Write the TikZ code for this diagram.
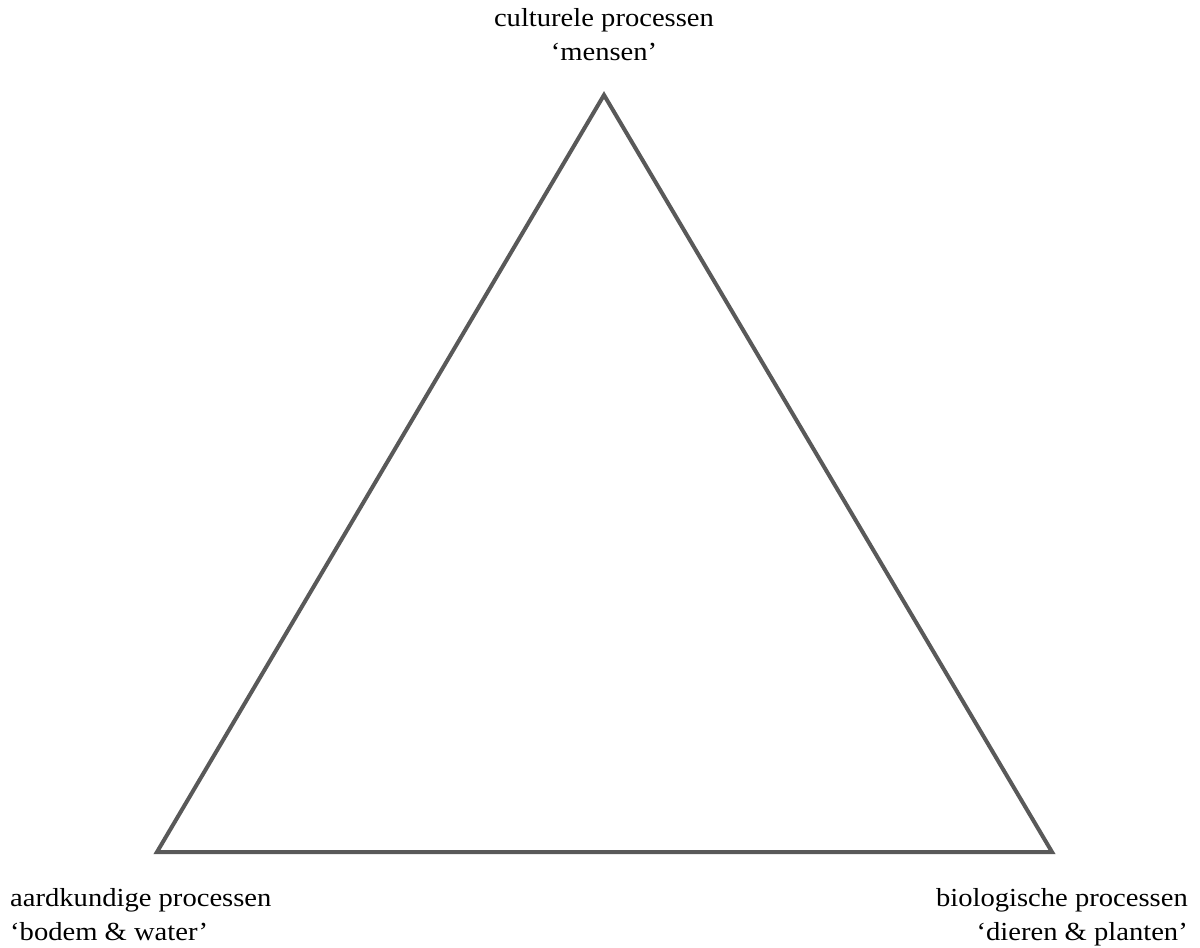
\documentclass[tikz,border=0pt]{standalone}
\usepackage{fontspec}
\setmainfont[FakeStretch=1.1]{Liberation Serif}
\definecolor{edgegray}{HTML}{595959}
\begin{document}
\begin{tikzpicture}[x=1pt,y=-1pt,
  label/.style={inner sep=0pt, font=\fontsize{26}{34}\selectfont, text=black},
  side/.style={draw=edgegray, line width=4pt, line join=miter}]
\useasboundingbox (0,0) rectangle (1200,948);
\coordinate (top) at (604,95);
\coordinate (left) at (157,852);
\coordinate (right) at (1052,852);
\draw[side] (top) -- (left) -- (right) -- cycle;
\node[label, align=center, anchor=north] (cult) at (604,8) {culturele processen\\‘mensen’};
\node[label, align=left, anchor=north west] (aard) at (10,888) {aardkundige processen\\‘bodem \& water’};
\node[label, align=right, anchor=north east] (bio) at (1188,888) {biologische processen\\‘dieren \& planten’};
\end{tikzpicture}
\end{document}
